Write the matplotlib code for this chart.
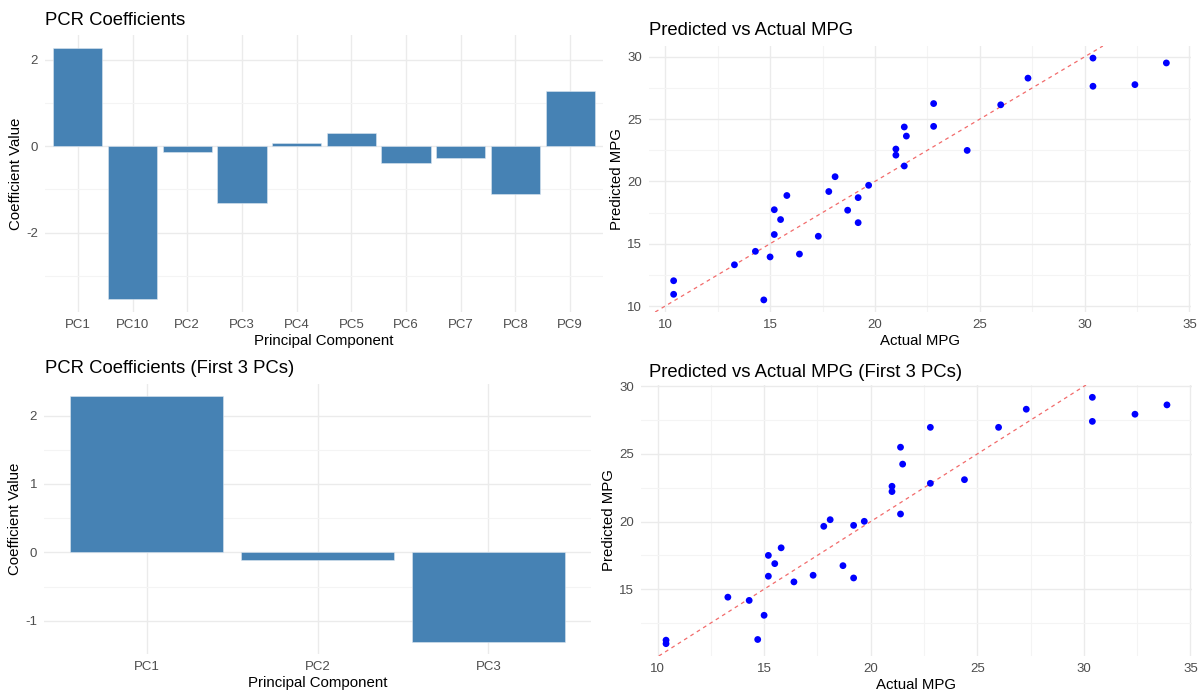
import matplotlib
matplotlib.use("Agg")
import matplotlib.pyplot as plt
import numpy as np

plt.rcParams['font.family'] = ['Liberation Sans', 'DejaVu Sans']

# ---------------- data ----------------
pc_labels = ["PC1", "PC10", "PC2", "PC3", "PC4", "PC5", "PC6", "PC7", "PC8", "PC9"]
pc_coefs = [2.287, -3.55, -0.124, -1.318, 0.078, 0.31, -0.395, -0.264, -1.10, 1.287]

pc3_labels = ["PC1", "PC2", "PC3"]
pc3_coefs = [2.283, -0.117, -1.307]

actual_mpg = [21.0, 21.0, 22.8, 21.4, 18.7, 18.1, 14.3, 24.4, 22.8, 19.2, 17.8, 16.4,
              17.3, 15.2, 10.4, 10.4, 14.7, 32.4, 30.4, 33.9, 21.5, 15.5, 15.2, 13.3,
              19.2, 27.3, 26.0, 30.4, 15.8, 19.7, 15.0, 21.4]
pred_all = [22.60, 22.11, 26.25, 21.24, 17.69, 20.38, 14.39, 22.49, 24.42, 18.70, 19.19, 14.17,
            15.60, 15.74, 12.03, 10.94, 10.49, 27.77, 29.90, 29.51, 23.64, 16.94, 17.73, 13.31,
            16.69, 28.29, 26.15, 27.64, 18.87, 19.69, 13.94, 24.37]
pred_3pc = [22.61, 22.22, 26.97, 20.56, 16.74, 20.14, 14.17, 23.10, 22.83, 19.72, 19.65, 15.54,
            16.03, 15.96, 11.23, 10.97, 11.28, 27.94, 29.19, 28.63, 24.25, 16.89, 17.50, 14.41,
            15.83, 28.31, 26.97, 27.41, 18.06, 20.02, 13.07, 25.50]

# ---------------- layout ----------------
W, H = 1198, 693
fig = plt.figure(figsize=(W / 100, H / 100), dpi=100)
fig.patch.set_facecolor("white")

def add_ax(x0, y0, x1, y1):
    return fig.add_axes([x0 / W, 1 - y1 / H, (x1 - x0) / W, (y1 - y0) / H])

BAR = "#4682B4"
GRID_MAJ = "#EBEBEB"
GRID_MIN = "#F4F4F4"
TICK_C = "#4D4D4D"

def style(ax):
    for s in ax.spines.values():
        s.set_visible(False)
    ax.set_facecolor("white")
    ax.tick_params(length=0, labelsize=9.5, colors=TICK_C, pad=5)
    ax.set_axisbelow(True)
    ax.grid(True, which="major", color=GRID_MAJ, linewidth=1.0)

def bar_panel(ax, labels, vals, minor_y):
    x = np.arange(len(labels))
    ax.bar(x, vals, width=0.9, color=BAR, edgecolor="#DCE6F0", linewidth=0.4)
    ax.set_xticks(x)
    ax.set_xticklabels(labels)
    ax.set_xlim(-0.6, len(labels) - 0.4)
    lo, hi = min(vals), max(vals)
    r = hi - lo
    ax.set_ylim(lo - 0.05 * r, hi + 0.05 * r)
    style(ax)
    ax.set_yticks(minor_y, minor=True)
    ax.grid(True, which="minor", axis="y", color=GRID_MIN, linewidth=0.8)
    ax.tick_params(which="minor", length=0)
    ax.set_xlabel("Principal Component", fontsize=10.8, labelpad=2)
    ax.set_ylabel("Coefficient Value", fontsize=10.8, labelpad=2)

def scatter_panel(ax, xs, ys, yticks, minor_y):
    ax.scatter(xs, ys, s=24, color="#0000FF", edgecolors="none", zorder=3)
    ax.axline((0, 0), slope=1, color="#F26B6B", linestyle=(0, (3, 3)), linewidth=0.9, zorder=2)
    xr = max(xs) - min(xs)
    yr = max(ys) - min(ys)
    ax.set_xlim(min(xs) - 0.05 * xr, max(xs) + 0.05 * xr)
    ax.set_ylim(min(ys) - 0.05 * yr, max(ys) + 0.05 * yr)
    ax.set_xticks([10, 15, 20, 25, 30, 35])
    ax.set_yticks(yticks)
    style(ax)
    ax.set_xticks([12.5, 17.5, 22.5, 27.5, 32.5], minor=True)
    ax.set_yticks(minor_y, minor=True)
    ax.grid(True, which="minor", color=GRID_MIN, linewidth=0.8)
    ax.tick_params(which="minor", length=0)
    ax.set_xlabel("Actual MPG", fontsize=10.8, labelpad=2)
    ax.set_ylabel("Predicted MPG", fontsize=10.8, labelpad=2)

# top-left
ax1 = add_ax(45, 35, 603, 312)
bar_panel(ax1, pc_labels, pc_coefs, [1, -1, -3])
ax1.set_yticks([2, 0, -2])
ax1.set_yticklabels(["2", "0", "-2"])

# top-right
ax2 = add_ax(649, 46, 1191, 312)
scatter_panel(ax2, actual_mpg, pred_all, [10, 15, 20, 25, 30], [12.5, 17.5, 22.5, 27.5])

# bottom-left
ax3 = add_ax(44, 384, 591, 654)
bar_panel(ax3, pc3_labels, pc3_coefs, [1.5, 0.5, -0.5])
ax3.set_yticks([2, 1, 0, -1])
ax3.set_yticklabels(["2", "1", "0", "-1"])

# bottom-right
ax4 = add_ax(641, 385, 1192, 656)
scatter_panel(ax4, actual_mpg, pred_3pc, [15, 20, 25, 30], [12.5, 17.5, 22.5, 27.5])

# titles
def title(x, y, s):
    fig.text(x / W, 1 - y / H, s, fontsize=13.3, color="black", ha="left", va="baseline")

title(45, 25, "PCR Coefficients")
title(649, 35, "Predicted vs Actual MPG")
title(45, 373, "PCR Coefficients (First 3 PCs)")
title(649, 377, "Predicted vs Actual MPG (First 3 PCs)")

fig.savefig("out.png", dpi=100, facecolor="white")
